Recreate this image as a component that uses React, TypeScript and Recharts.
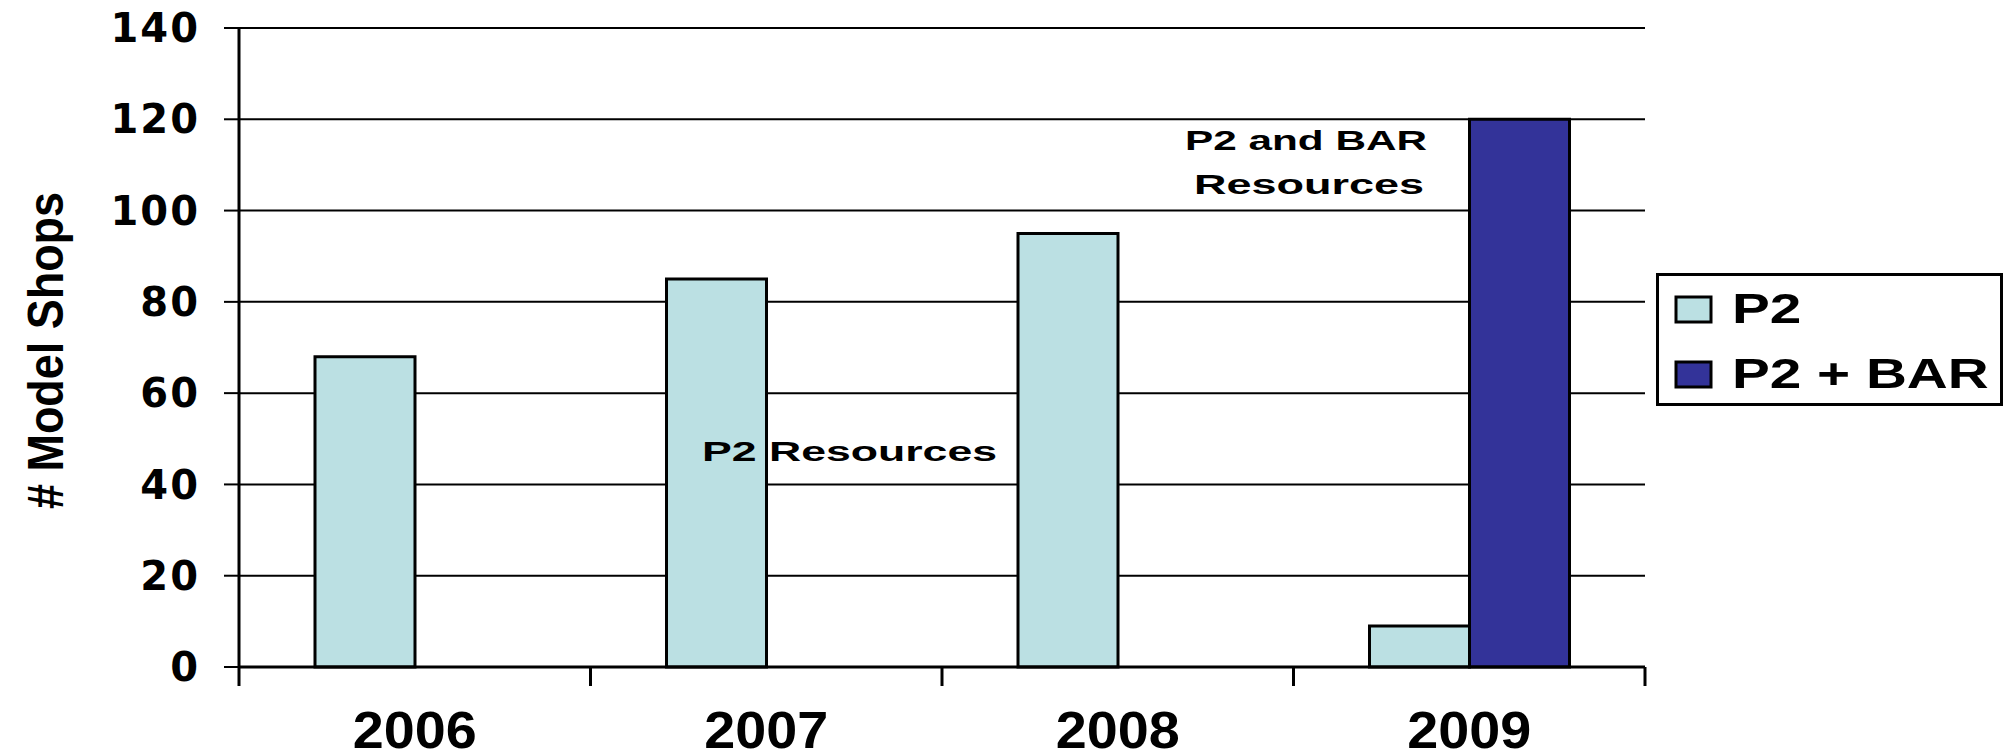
import React from 'react';
import {
  BarChart,
  Bar,
  XAxis,
  YAxis,
  CartesianGrid,
  Legend,
} from 'recharts';

const years = ['2006', '2007', '2008', '2009'];
const p2Values = [68, 85, 95, 9];
const p2BarValues: Array<number | null> = [null, null, null, 120];
const yTicks = [0, 20, 40, 60, 80, 100, 120, 140];

const data = years.map((year, i) => ({
  year,
  p2: p2Values[i],
  p2bar: p2BarValues[i],
}));

const LIGHT = '#BBE0E3';
const DARK = '#333399';
const ARIAL = '"Liberation Sans", Arial, sans-serif';

// year labels plus the tick marks on the category boundaries
const YearTick = (props: any) => {
  const { x, y, payload, index, visibleTicksCount, width } = props;
  const half = payload.offset || width / visibleTicksCount / 2;
  return (
    <g>
      <line x1={x - half} x2={x - half} y1={y} y2={y + 19} stroke="#000" strokeWidth={3} />
      {index === visibleTicksCount - 1 && (
        <line x1={x + half} x2={x + half} y1={y} y2={y + 19} stroke="#000" strokeWidth={3} />
      )}
      <text
        x={x}
        y={y + 81}
        textAnchor="middle"
        fill="#000"
        fontFamily={ARIAL}
        fontWeight={700}
        fontSize={51}
        textLength={String(payload.value).length * 31}
        lengthAdjust="spacingAndGlyphs"
      >
        {payload.value}
      </text>
    </g>
  );
};

const LegendBox = ({ payload }: any) => (
  <svg width={347} height={133} style={{ display: 'block' }}>
    <rect x={1.5} y={1.5} width={344} height={130} fill="#fff" stroke="#000" strokeWidth={3} />
    {(payload || []).map((p: any, i: number) => (
      <g key={p.value}>
        <rect x={20} y={24 + i * 65} width={35} height={25} fill={p.color} stroke="#000" strokeWidth={3} />
        <text
          transform={`translate(76 ${50 + i * 65}) scale(1.35 1)`}
          fill="#000"
          fontFamily={ARIAL}
          fontWeight={700}
          fontSize={42}
        >
          {p.value}
        </text>
      </g>
    ))}
  </svg>
);

const annoStyle = {
  fill: '#000',
  fontFamily: ARIAL,
  fontWeight: 700,
} as const;

// text notes sit above the bars, so they go in an overlay
const Notes = () => (
  <svg
    width={2003}
    height={752}
    style={{ position: 'absolute', left: 0, top: 0, pointerEvents: 'none' }}
  >
    <text x={702} y={461} fontSize={28} textLength={295} lengthAdjust="spacingAndGlyphs" style={annoStyle}>
      P2 Resources
    </text>
    <text x={1185} y={150} fontSize={28} textLength={242} lengthAdjust="spacingAndGlyphs" style={annoStyle}>
      P2 and BAR
    </text>
    <text x={1194} y={194} fontSize={28} textLength={230} lengthAdjust="spacingAndGlyphs" style={annoStyle}>
      Resources
    </text>
  </svg>
);

export default function App() {
  return (
    <div style={{ position: 'absolute', left: 0, top: 0, width: 2003, height: 752, background: '#fff' }}>
      <BarChart
        width={2003}
        height={752}
        data={data}
        margin={{ top: 28, right: 358, bottom: 0, left: 0 }}
        barSize={100}
        barGap={0}
      >
        <CartesianGrid vertical={false} stroke="#000" strokeWidth={2} />
        <XAxis
          dataKey="year"
          height={85}
          tickLine={false}
          tickSize={0}
          tickMargin={0}
          axisLine={{ stroke: '#000', strokeWidth: 3 }}
          tick={<YearTick />}
          interval={0}
        />
        <YAxis
          width={239}
          domain={[0, 140]}
          ticks={yTicks}
          interval={0}
          tickSize={15}
          tickMargin={24}
          tickLine={{ stroke: '#000', strokeWidth: 2 }}
          axisLine={{ stroke: '#000', strokeWidth: 3 }}
          tick={{
            fill: '#000',
            fontSize: 40,
            fontWeight: 700,
            fontFamily: '"DejaVu Sans", sans-serif',
            letterSpacing: 2,
          }}
          label={{
            content: ({ viewBox }: any) => {
              const cy = viewBox.y + viewBox.height / 2 + 3;
              return (
                <text
                  transform={`translate(46 ${cy}) rotate(-90)`}
                  textAnchor="middle"
                  dominantBaseline="central"
                  fill="#000"
                  fontFamily={ARIAL}
                  fontWeight={700}
                  fontSize={50}
                  textLength={317}
                  lengthAdjust="spacingAndGlyphs"
                >
                  # Model Shops
                </text>
              );
            },
          }}
        />
        <YAxis
          yAxisId="frame"
          orientation="right"
          width={0}
          domain={[0, 140]}
          tick={false}
          tickLine={false}
          axisLine={{ stroke: '#000', strokeWidth: 3 }}
        />
        <Legend
          layout="vertical"
          align="center"
          verticalAlign="middle"
          content={<LegendBox />}
          wrapperStyle={{ left: 1656, top: 273, width: 347, height: 133 }}
        />
        <Bar dataKey="p2" name="P2" fill={LIGHT} stroke="#000" strokeWidth={3} isAnimationActive={false} />
        <Bar dataKey="p2bar" name="P2 + BAR" fill={DARK} stroke="#000" strokeWidth={3} isAnimationActive={false} />
      </BarChart>
      <Notes />
    </div>
  );
}
